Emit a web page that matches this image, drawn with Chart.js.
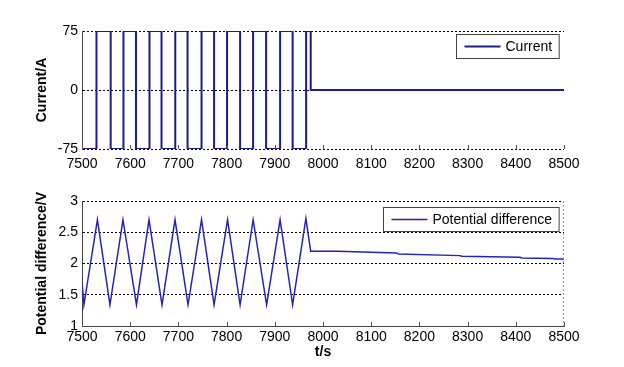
<!DOCTYPE html>
<html>
<head>
<meta charset="utf-8">
<script src="https://cdn.jsdelivr.net/npm/chart.js@4.4.1/dist/chart.umd.min.js"></script>
<style>
    body { margin: 0; background: #fff; }
    #wrap { position: relative; width: 624px; height: 367px; }
    canvas { position: absolute; left: 0; }
</style>
</head>
<body>
<div id="wrap">
    <canvas id="currentChart" width="624" height="175" style="top:0px"></canvas>
    <canvas id="voltChart" width="624" height="192" style="top:175px"></canvas>
</div>
<script>
// tick labels
const timeTicks = [7500, 7600, 7700, 7800, 7900, 8000, 8100, 8200, 8300, 8400, 8500];
const currentTicks = [-75, 0, 75];
const voltTicks = [1, 1.5, 2, 2.5, 3];

// current series (value holds until next time)
const currentTimes = [7500, 7530, 7559.5, 7586, 7612, 7640, 7665, 7693.5, 7719, 7748, 7774,
    7801, 7828, 7855, 7882, 7911, 7937, 7965, 7974.5, 8500];
const currentValues = [-75, 75, -75, 75, -75, 75, -75, 75, -75, 75, -75,
    75, -75, 75, -75, 75, -75, 75, 0, 0];

// potential difference series
const voltTimes = [7500, 7504, 7532, 7558, 7585, 7613, 7639, 7666, 7693, 7720, 7748, 7774,
    7802, 7828, 7855, 7883, 7911, 7937, 7964.5, 7974.5,
    8030, 8153, 8156, 8284, 8288, 8409, 8412, 8477, 8481, 8500];
const voltValues = [1.70, 1.34, 2.70, 1.34, 2.70, 1.34, 2.70, 1.34, 2.70, 1.34, 2.70, 1.34,
    2.70, 1.34, 2.70, 1.34, 2.70, 1.34, 2.72, 2.195,
    2.195, 2.168, 2.152, 2.126, 2.115, 2.099, 2.088, 2.08, 2.072, 2.072];

const FONT = '"Liberation Sans", Arial, sans-serif';

/**
 * inward x tick marks, legend box and optional dotted right edge
 */
const matlabBits = {
    id: 'matlabBits',
    afterDatasetsDraw(chart, args, opts) {
        const ctx = chart.ctx;
        const a = chart.chartArea;
        const xs = chart.scales.x;
        ctx.save();
        ctx.lineWidth = 1;
        ctx.strokeStyle = '#555';
        ctx.setLineDash([]);
        for (let t of xs.ticks) {
            let px = Math.round(xs.getPixelForValue(t.value)) + 0.5;
            ctx.beginPath();
            ctx.moveTo(px, a.bottom);
            ctx.lineTo(px, a.bottom - 4);
            ctx.stroke();
        }
        if (opts.rightEdge) {
            ctx.strokeStyle = '#999';
            ctx.setLineDash([2, 2]);
            ctx.beginPath();
            ctx.moveTo(Math.round(a.right) - 0.5, a.top);
            ctx.lineTo(Math.round(a.right) - 0.5, a.bottom);
            ctx.stroke();
            ctx.setLineDash([]);
        }

        // legend
        const ds = chart.data.datasets[0];
        ctx.font = '14px ' + FONT;
        const tw = ctx.measureText(ds.label).width;
        const w = 8 + 36 + 5 + tw + 7;
        const h = 24;
        const x0 = Math.round(a.right - 5 - w) + 0.5;
        const y0 = Math.round(a.top + opts.legendTop) + 0.5;
        ctx.fillStyle = '#fff';
        ctx.fillRect(x0, y0, w, h);
        ctx.strokeStyle = '#444';
        ctx.strokeRect(x0, y0, w, h);
        ctx.strokeStyle = ds.borderColor;
        ctx.lineWidth = ds.borderWidth;
        ctx.beginPath();
        ctx.moveTo(x0 + 8, y0 + h / 2);
        ctx.lineTo(x0 + 44, y0 + h / 2);
        ctx.stroke();
        ctx.fillStyle = '#000';
        ctx.textBaseline = 'middle';
        ctx.textAlign = 'left';
        ctx.fillText(ds.label, x0 + 49, y0 + h / 2 + 1);
        ctx.restore();
    }
};

function make_chart(id, cfg) {
    const canv = document.getElementById(id).getContext('2d');
    return new Chart(canv, {
        type: 'line',
        data: {
            datasets: [{
                label: cfg.label,
                data: cfg.times.map((t, i) => ({x: t, y: cfg.values[i]})),
                borderColor: cfg.color,
                borderWidth: cfg.lineWidth,
                pointRadius: 0,
                stepped: cfg.stepped,
                tension: 0,
                fill: false
            }]
        },
        plugins: [matlabBits],
        options: {
            responsive: false,
            animation: false,
            devicePixelRatio: 1,
            layout: {
                padding: {top: cfg.padTop, right: 60, left: 0, bottom: 0}
            },
            plugins: {
                legend: {display: false},
                tooltip: {enabled: false},
                matlabBits: {legendTop: cfg.legendTop, rightEdge: cfg.rightEdge}
            },
            scales: {
                x: {
                    type: 'linear',
                    min: 7500,
                    max: 8500,
                    afterBuildTicks: (scale) => {
                        scale.ticks = timeTicks.map(v => ({value: v}));
                    },
                    afterFit: (scale) => {
                        scale.height = cfg.xHeight;
                    },
                    ticks: {
                        color: '#000',
                        padding: cfg.xPad,
                        maxRotation: 0,
                        autoSkip: false,
                        font: {family: FONT, size: 14},
                        callback: (value) => String(value)
                    },
                    grid: {display: false, drawTicks: false},
                    border: {display: cfg.xBorder, color: '#444', width: 1},
                    title: {
                        display: cfg.xTitle !== '',
                        text: cfg.xTitle,
                        color: '#000',
                        font: {family: FONT, size: 14, weight: 'bold'},
                        padding: {top: 0, bottom: 6}
                    }
                },
                y: {
                    min: cfg.yTicks[0],
                    max: cfg.yTicks[cfg.yTicks.length - 1],
                    afterBuildTicks: (scale) => {
                        scale.ticks = cfg.yTicks.map(v => ({value: v}));
                    },
                    afterFit: (scale) => {
                        scale.width = 82;
                    },
                    ticks: {
                        color: '#000',
                        padding: 4,
                        font: {family: FONT, size: 14},
                        callback: (value) => String(value)
                    },
                    grid: {
                        color: '#000',
                        lineWidth: 1,
                        drawTicks: false
                    },
                    border: {display: true, color: '#444', width: 1, dash: [2, 2]},
                    title: {
                        display: true,
                        text: cfg.yTitle,
                        color: '#000',
                        font: {family: FONT, size: 14, weight: 'bold'},
                        padding: {top: 34, bottom: 0}
                    }
                }
            }
        }
    });
}

const graph1 = make_chart('currentChart', {
    label: 'Current',
    times: currentTimes,
    values: currentValues,
    color: '#1c1c8c',
    lineWidth: 2,
    stepped: true,
    yTicks: currentTicks,
    yTitle: 'Current/A',
    xTitle: '',
    padTop: 31,
    xHeight: 26,
    xPad: 7,
    xBorder: false,
    legendTop: 3,
    rightEdge: false
});

const graph2 = make_chart('voltChart', {
    label: 'Potential difference',
    times: voltTimes,
    values: voltValues,
    color: '#2323b8',
    lineWidth: 1.5,
    stepped: false,
    yTicks: voltTicks,
    yTitle: 'Potential difference/V',
    xTitle: 't/s',
    padTop: 26,
    xHeight: 41,
    xPad: 3,
    xBorder: true,
    legendTop: 6,
    rightEdge: true
});
</script>
</body>
</html>
